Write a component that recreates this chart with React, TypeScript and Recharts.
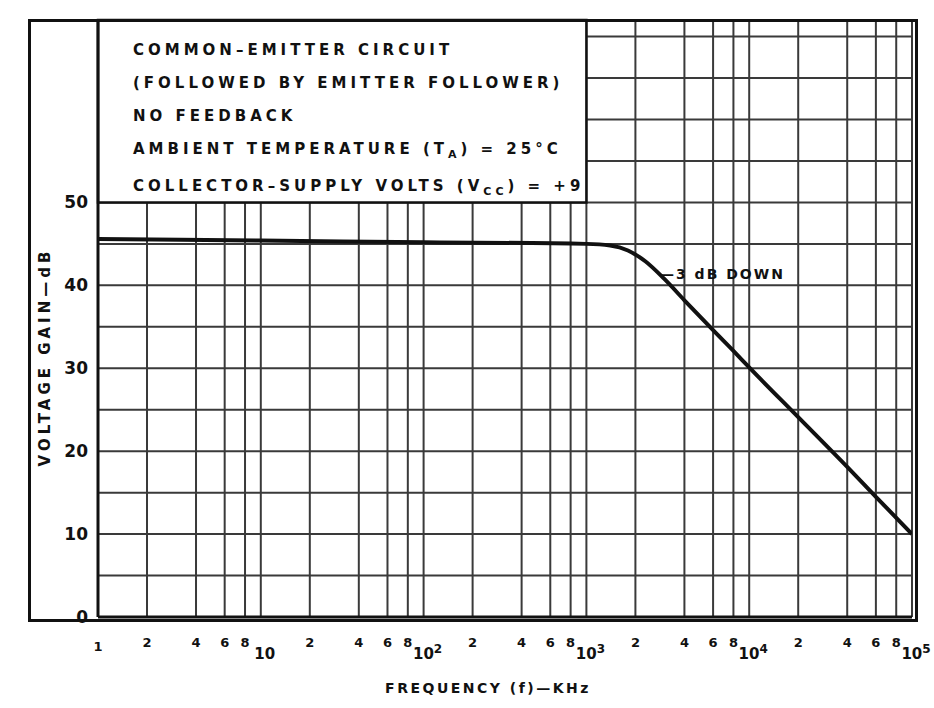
import { CartesianGrid, Line, LineChart, ReferenceArea, XAxis, YAxis } from "recharts";

// gain curve (frequency in kHz, gain in dB)
const freqs = [1, 10, 100, 1000, 1400, 1800, 2300, 3000, 4000, 6000, 8000, 10000, 20000, 40000, 60000, 100000];
const gains = [45.6, 45.4, 45.2, 45.0, 44.8, 44.2, 42.9, 40.8, 38.2, 34.6, 32.1, 30.1, 24.1, 18.1, 14.5, 10.0];

const freqTicks = [
  1, 2, 4, 6, 8,
  10, 20, 40, 60, 80,
  100, 200, 400, 600, 800,
  1000, 2000, 4000, 6000, 8000,
  10000, 20000, 40000, 60000, 80000,
  100000,
];
const gainTicks = [0, 5, 10, 15, 20, 25, 30, 35, 40, 45, 50, 55, 60, 65, 70];
const gainLabels = [0, 10, 20, 30, 40, 50];

const noteLines = [
  "COMMON–EMITTER CIRCUIT",
  "(FOLLOWED BY EMITTER FOLLOWER)",
  "NO FEEDBACK",
];

const data = freqs.map((f, i) => ({ f, gain: gains[i] }));

const ink = "#111";
const gridInk = "#3a3a3a";
const font = "'DejaVu Sans', sans-serif";

const FreqTick = (props: any) => {
  const { x, y, payload } = props;
  const v: number = payload.value;
  const e = Math.round(Math.log10(v));
  const isDecade = Math.abs(v - Math.pow(10, e)) < 1e-6;
  const style = { fontFamily: font, fontSize: 13, fill: ink, fontWeight: 600 };
  if (v === 1) {
    return (
      <text x={x} y={y + 26} textAnchor="middle" style={style}>
        1
      </text>
    );
  }
  if (isDecade) {
    return (
      <text x={x + 4} y={y + 34} textAnchor="middle" style={{ ...style, fontSize: 15 }}>
        10
        {e > 1 && (
          <tspan dy={-6} fontSize={12}>
            {e}
          </tspan>
        )}
      </text>
    );
  }
  const lead = Math.round(v / Math.pow(10, Math.floor(Math.log10(v))));
  return (
    <text x={x} y={y + 22} textAnchor="middle" style={style}>
      {lead}
    </text>
  );
};

const textLine = {
  position: "absolute" as const,
  left: 133,
  fontFamily: font,
  fontSize: 15,
  fontWeight: 600,
  letterSpacing: 4,
  color: ink,
  whiteSpace: "nowrap" as const,
  lineHeight: "16px",
};

export default function App() {
  return (
    <div style={{ position: "absolute", left: 0, top: 0, width: 934, height: 708, background: "#fff" }}>
      <LineChart width={934} height={708} data={data} margin={{ top: 20, right: 22, bottom: 51, left: 38 }}>
        <CartesianGrid stroke={gridInk} strokeWidth={2} />
        <XAxis
          dataKey="f"
          type="number"
          scale="log"
          domain={[1, 100000]}
          ticks={freqTicks}
          interval={0}
          allowDataOverflow
          height={40}
          tickLine={false}
          axisLine={{ stroke: ink, strokeWidth: 3 }}
          tick={<FreqTick />}
        />
        <YAxis
          type="number"
          domain={[0, 72]}
          ticks={gainTicks}
          interval={0}
          allowDataOverflow
          width={60}
          tickLine={false}
          axisLine={{ stroke: ink, strokeWidth: 3 }}
          tickFormatter={(v: number) => (gainLabels.includes(v) ? String(v) : "")}
          tick={{ fill: ink, fontSize: 17, fontFamily: font, fontWeight: 600 }}
          dx={-2}
        />
        <ReferenceArea
          x1={1}
          x2={1000}
          y1={50}
          y2={72}
          fill="#fff"
          fillOpacity={1}
          stroke={ink}
          strokeWidth={2.5}
          ifOverflow="visible"
        />
        <Line
          type="monotone"
          dataKey="gain"
          stroke={ink}
          strokeWidth={4}
          dot={false}
          isAnimationActive={false}
        />
      </LineChart>

      {/* outer frame around the plot and the y labels */}
      <div
        style={{
          position: "absolute",
          left: 28,
          top: 19,
          width: 884,
          height: 597,
          border: `3px solid ${ink}`,
          pointerEvents: "none",
        }}
      />

      {noteLines.map((t, i) => (
        <div key={t} style={{ ...textLine, top: 42 + i * 33 }}>
          {t}
        </div>
      ))}
      <div style={{ ...textLine, top: 141 }}>
        AMBIENT TEMPERATURE (T<sub style={{ fontSize: 11 }}>A</sub>) = 25°C
      </div>
      <div style={{ ...textLine, top: 178 }}>
        COLLECTOR–SUPPLY VOLTS (V<sub style={{ fontSize: 11 }}>CC</sub>) = +9
      </div>

      <div
        style={{
          position: "absolute",
          left: 660,
          top: 266,
          fontFamily: font,
          fontSize: 14,
          fontWeight: 600,
          letterSpacing: 2,
          color: ink,
          whiteSpace: "nowrap",
          lineHeight: "16px",
        }}
      >
        —3 dB DOWN
      </div>

      <div
        style={{
          position: "absolute",
          left: 45,
          top: 357,
          transform: "translate(-50%, -50%) rotate(-90deg)",
          fontFamily: font,
          fontSize: 15,
          fontWeight: 600,
          letterSpacing: 4,
          color: ink,
          whiteSpace: "nowrap",
        }}
      >
        VOLTAGE GAIN—dB
      </div>

      <div
        style={{
          position: "absolute",
          left: 488,
          top: 688,
          transform: "translate(-50%, -50%)",
          fontFamily: font,
          fontSize: 14,
          fontWeight: 600,
          letterSpacing: 2.5,
          color: ink,
          whiteSpace: "nowrap",
        }}
      >
        FREQUENCY (f)—KHz
      </div>
    </div>
  );
}
